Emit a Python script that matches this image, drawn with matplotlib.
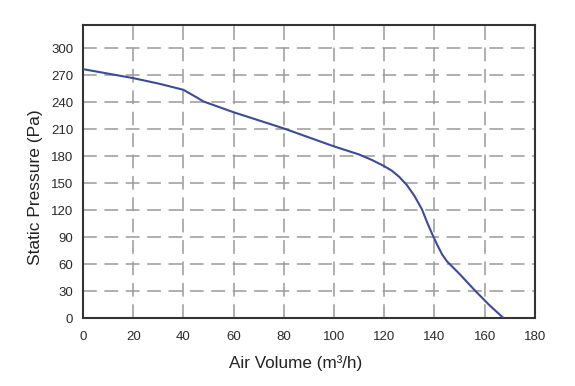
import numpy as np
import matplotlib.pyplot as plt

plt.rcParams['font.family'] = ['Liberation Sans', 'DejaVu Sans']

# fan curve
air_volume = [0, 10, 20, 30, 40, 45, 48, 55, 60, 70, 80, 90, 100, 110, 115,
              120, 123, 126, 129, 132, 135, 137, 139, 141, 143, 145, 150, 156, 162, 167.5]
static_pressure = [277, 272, 267, 261, 254, 246, 241, 234, 229, 220, 211, 201, 191, 182, 176,
                   169, 164, 157, 148, 136, 121, 107, 94, 82, 71, 63, 49, 31, 14, 0]
x_ticks = list(range(0, 181, 20))
y_ticks = list(range(0, 301, 30))

fig = plt.figure(figsize=(5.75, 3.86), dpi=100)
ax = fig.add_axes([0.1443, 0.176, 0.786, 0.759])

ax.plot(air_volume, static_pressure, color='#3b4b9c', linewidth=1.5, zorder=3)

ax.set_xlim(0, 180)
ax.set_ylim(0, 326)
ax.set_xticks(x_ticks)
ax.set_yticks(y_ticks)
ax.tick_params(length=0, labelsize=9.5, colors='#2a2a2a')
ax.tick_params(axis='x', pad=9)
ax.tick_params(axis='y', pad=7)
ax.grid(True, color='#9a9a9a', linewidth=1.1, linestyle=(0, (9, 5)))
for s in ax.spines.values():
    s.set_color('#333333')
    s.set_linewidth(1.5)

ax.set_xlabel('Air Volume (m³/h)', fontsize=12.3, color='#222222')
ax.set_ylabel('Static Pressure (Pa)', fontsize=12.5, color='#222222')
ax.xaxis.set_label_coords(0.47, -0.154)
ax.yaxis.set_label_coords(-0.106, 0.447)
ax.xaxis.label.set_va('center')
ax.yaxis.label.set_va('center')

fig.savefig('out.png', dpi=100)
